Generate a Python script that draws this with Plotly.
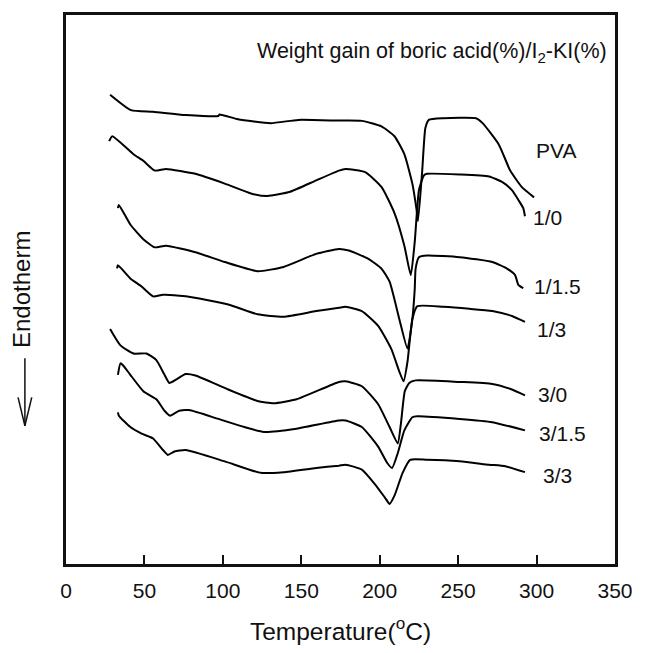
import plotly.graph_objects as go

# Temperature (°C) and heat flow (arbitrary units, curves vertically offset)
pva_t = [28.1, 41.4, 55.5, 76.3, 97.1, 97.9, 109.6, 130.4, 148.0, 174.0, 188.6, 201.1, 209.4, 215.7, 220.8, 223.5, 224.4, 227.1, 229.1, 231.3, 240.6, 261.4, 265.6, 275.9, 283.2, 290.5, 298.4]
pva_h = [478.7, 463, 461.3, 458, 457, 458.5, 453.7, 449.7, 453, 452.3, 452, 446.3, 436.3, 418, 388, 361.3, 349.7, 401.3, 444.7, 453, 454.7, 454.7, 449.7, 428, 401.3, 384.7, 374]

b10_t = [27.5, 29.5, 43.0, 49.3, 56.6, 63.8, 82.5, 101.2, 117.9, 128.3, 142.9, 159.5, 174.0, 178.2, 190.7, 201.1, 209.4, 215.7, 219.8, 222.3, 225.0, 228.1, 230.2, 251.0, 269.7, 278.0, 284.3, 288.4, 291.5, 292.6]
b10_h = [431.3, 436.3, 418, 411.3, 401.3, 403, 398, 388, 378, 375.3, 379.7, 391.3, 401.3, 403, 399.7, 384.7, 358, 324.7, 294.7, 328, 381.3, 396.3, 398, 397.3, 395.3, 389.7, 381.3, 371.3, 363, 354.7]

b115_t = [33.1, 33.7, 41.0, 49.3, 56.6, 63.8, 82.5, 101.2, 122.1, 138.7, 159.5, 174.0, 180.3, 192.8, 201.1, 206.3, 212.5, 217.7, 220.8, 222.3, 222.9, 225.0, 230.2, 251.0, 271.8, 281.1, 286.3, 288.4, 291.5]
b115_h = [363, 366.3, 346.3, 331.3, 323, 324.7, 318, 308, 298.7, 303, 316.3, 321.3, 319.7, 311.3, 301.3, 288, 249.7, 219.7, 249.7, 279.7, 301.3, 313, 314.7, 313, 308, 301.3, 294.7, 284.7, 281.3]

b13_t = [32.5, 33.1, 41.0, 48.2, 55.5, 61.8, 76.3, 103.4, 122.1, 138.7, 159.5, 174.0, 178.2, 188.6, 199.0, 207.3, 212.5, 215.2, 217.7, 220.8, 224.0, 240.6, 257.2, 271.8, 284.3, 292.6]
b13_h = [301.5, 304.7, 291.3, 283, 273, 274.7, 273, 264.7, 254.7, 252.3, 258, 261.3, 262.3, 258, 243, 219.7, 196.3, 186.3, 206.3, 249.7, 263, 262.3, 260.3, 258, 253, 247]

b30_t = [28.1, 34.7, 43.0, 51.3, 57.6, 62.8, 65.9, 70.1, 76.3, 82.5, 103.4, 122.1, 132.4, 147.0, 174.0, 178.2, 188.6, 199.0, 206.3, 211.5, 213.5, 216.0, 218.8, 222.9, 251.0, 271.8, 284.3, 292.6]
b30_h = [239.7, 223, 214.7, 214.7, 208, 193, 184.7, 188, 193.7, 192.3, 178, 166.3, 164, 168, 185.7, 186.3, 181.3, 163, 139.7, 123, 143, 176.3, 184.7, 187.3, 185.7, 183.7, 178, 172]

b315_t = [33.1, 34.7, 36.2, 41.0, 49.3, 57.6, 62.8, 66.3, 72.2, 78.4, 97.1, 113.7, 126.2, 147.0, 174.0, 178.2, 188.6, 199.0, 204.8, 207.9, 211.5, 215.7, 220.8, 224.0, 251.0, 271.8, 292.6]
b315_h = [193, 204.7, 203, 193, 176.3, 168, 156.3, 151.3, 156.3, 157, 148, 139.7, 134.7, 138, 146.3, 146.3, 139.7, 119.7, 103, 98, 113, 136.3, 149.7, 150.7, 148, 144.7, 136.3]

b33_t = [33.1, 33.7, 41.0, 48.2, 55.5, 61.8, 64.9, 69.1, 76.3, 101.2, 124.1, 138.7, 159.5, 174.0, 178.2, 188.6, 197.0, 203.2, 206.3, 209.4, 214.6, 219.4, 230.2, 251.0, 269.7, 280.1, 292.6]
b33_h = [154.7, 151.3, 139.7, 133, 128, 116.3, 111.3, 114.7, 116.3, 104.7, 93, 93.7, 98, 100.3, 101.3, 96.3, 81.3, 68, 61.3, 69.7, 93, 106.3, 106.3, 104.7, 101.3, 99.7, 93.7]

series_names = ["PVA", "1/0", "1/1.5", "1/3", "3/0", "3/1.5", "3/3"]
series_t = [pva_t, b10_t, b115_t, b13_t, b30_t, b315_t, b33_t]
series_h = [pva_h, b10_h, b115_h, b13_h, b30_h, b315_h, b33_h]

label_t = [312.3, 307.1, 313.4, 309.2, 310.2, 316.5, 313.4]
label_h = [421.3, 353, 283, 239.7, 173, 133, 90.3]

x_ticks = [0, 50, 100, 150, 200, 250, 300, 350]

FONT = "Liberation Sans, Arial, sans-serif"

fig = go.Figure()
for name, t, h in zip(series_names, series_t, series_h):
    fig.add_trace(go.Scatter(x=t, y=h, mode="lines", name=name,
                             line=dict(color="black", width=2, shape="spline", smoothing=0.5),
                             showlegend=False, hoverinfo="skip"))

for name, t, h in zip(series_names, label_t, label_h):
    fig.add_annotation(x=t, y=h, text=name, showarrow=False, xref="x", yref="y",
                       font=dict(family=FONT, size=21, color="#111"))

fig.add_annotation(x=233.3, y=521.3, xref="x", yref="y", showarrow=False,
                   text="Weight gain of boric acid(%)/I<sub>2</sub>-KI(%)",
                   font=dict(family=FONT, size=21.5, color="#111"))

# y-axis title with downward arrow
fig.add_annotation(x=-0.081, y=(573 - 293) / 560, xref="paper", yref="paper", showarrow=False,
                   xanchor="center", yanchor="middle",
                   text="Endotherm", textangle=-90,
                   font=dict(family=FONT, size=24, color="#111"))
ax_x = (24 - 66) / 561
fig.add_shape(type="line", xref="paper", yref="paper", x0=ax_x, x1=ax_x,
              y0=(573 - 363) / 560, y1=(573 - 432) / 560, line=dict(color="#111", width=1.5))
fig.add_shape(type="line", xref="paper", yref="paper", x0=(17 - 66) / 561, x1=ax_x,
              y0=(573 - 403) / 560, y1=(573 - 432) / 560, line=dict(color="#111", width=1.5))
fig.add_shape(type="line", xref="paper", yref="paper", x0=(31 - 66) / 561, x1=ax_x,
              y0=(573 - 403) / 560, y1=(573 - 432) / 560, line=dict(color="#111", width=1.5))

fig.update_layout(
    width=645, height=653,
    margin=dict(l=66, r=18, t=13, b=80),
    paper_bgcolor="white", plot_bgcolor="white",
    xaxis=dict(range=[0, 350], tickvals=x_ticks, ticks="inside", ticklen=9, tickwidth=2,
               tickcolor="#111", showline=True, linewidth=2.5, linecolor="#111", mirror=True,
               showgrid=False, zeroline=False, ticklabelstandoff=6,
               tickfont=dict(family=FONT, size=21, color="#111"),
               title=dict(text="Temperature(<sup>o</sup>C)", standoff=22,
                          font=dict(family=FONT, size=24.5, color="#111"))),
    yaxis=dict(range=[0, 560], showticklabels=False, ticks="", showline=True, linewidth=2.5,
               linecolor="#111", mirror=True, showgrid=False, zeroline=False),
)

fig.write_html("out.html")
